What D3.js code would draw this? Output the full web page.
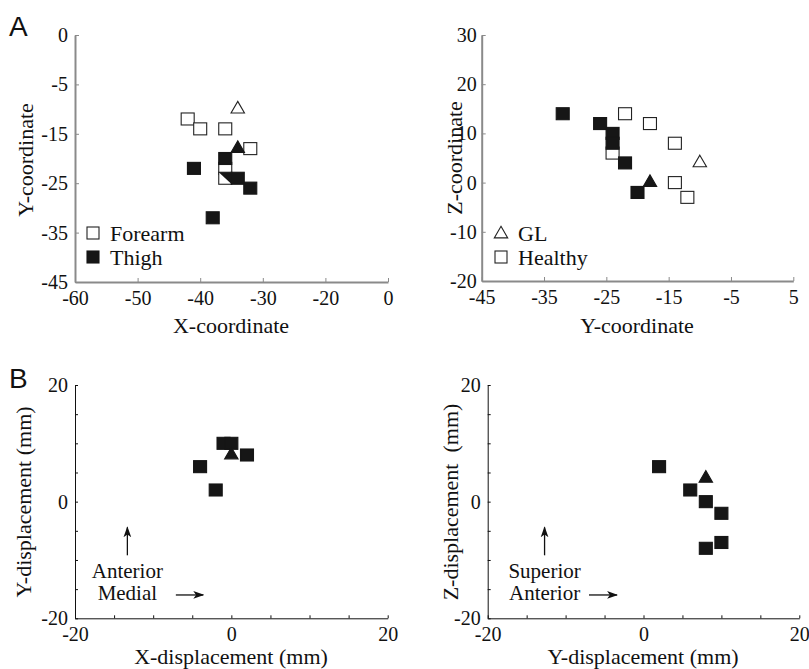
<!DOCTYPE html>
<html>
<head>
<meta charset="utf-8">
<script src="https://cdn.jsdelivr.net/npm/d3@7"></script>
<style>
  body { margin: 0; background: #fff; }
  text { font-family: "Liberation Serif", "Times New Roman", serif; fill: #111; }
  .panelLetter { font-family: "Liberation Sans", Arial, sans-serif; }
</style>
</head>
<body>
<script>

//DATA

// panel A, left: X vs Y coordinate
var healthyForearmXY = [[-42, -12], [-40, -14], [-36, -14], [-32, -18], [-36, -22], [-36, -24]];
var healthyThighXY = [[-41, -22], [-36, -20], [-34, -24], [-32, -26], [-38, -32]];
var hiddenThighXY = [[-36, -24]]; // mostly covered, only a corner shows
var glForearmXY = [[-34, -10]];
var glThighXY = [[-34, -18]];

// panel A, right: Y vs Z coordinate
var healthyForearmYZ = [[-22, 14], [-18, 12], [-14, 8], [-24, 6], [-14, 0], [-12, -3]];
var healthyThighYZ = [[-32, 14], [-26, 12], [-24, 10], [-24, 8], [-22, 4], [-20, -2]];
var glForearmYZ = [[-10, 4]];
var glThighYZ = [[-18, 0]];

// panel B: displacements (mm)
var healthyDispXY = [[-4, 6], [-2, 2], [-1, 10], [0, 10], [2, 8]];
var glDispXY = [[0, 8]];
var healthyDispYZ = [[2, 6], [6, 2], [8, 0], [10, -2], [10, -7], [8, -8]];
var glDispYZ = [[8, 4]];

// ticks (the original figure labels its last tick oddly, kept as printed)
var xTicksA1 = [-60, -50, -40, -30, -20, -10];
var xLabelsA1 = ["-60", "-50", "-40", "-30", "-20", "0"];
var yTicksA1 = [-45, -35, -25, -15, -5, 5];
var yLabelsA1 = ["-45", "-35", "-25", "-15", "-5", "0"];
var xTicksA2 = [-45, -35, -25, -15, -5, 5];
var xLabelsA2 = ["-45", "-35", "-25", "-15", "-5", "5"];
var yTicksA2 = [-20, -10, 0, 10, 20, 30];
var yLabelsA2 = ["-20", "-10", "0", "10", "20", "30"];
var ticksB = [-20, -15, -10, -5, 0, 5, 10, 15, 20];
var majorTicksB = [-20, 0, 20];

//SVG

var svg = d3.select("body")
	.append("svg")
	.attr("width", 809)
	.attr("height", 669);

var markSize = 13;
var serif = "'Liberation Serif', 'Times New Roman', serif";

function drawPanel(p) {

	var g = svg.append("g");

	var xScale = d3.scaleLinear().domain(p.xDomain).range(p.xRange);
	var yScale = d3.scaleLinear().domain(p.yDomain).range(p.yRange);

	//x axis
	var xAxis = d3.axisBottom(xScale)
		.tickValues(p.xTicks)
		.tickFormat(p.xFormat)
		.tickSizeInner(-p.tickLen)
		.tickSizeOuter(0)
		.tickPadding(9);

	var xg = g.append("g")
		.attr("transform", "translate(0," + p.yRange[0] + ")")
		.call(xAxis);

	//y axis
	var yAxis = d3.axisLeft(yScale)
		.tickValues(p.yTicks)
		.tickFormat(p.yFormat)
		.tickSizeInner(-p.tickLen)
		.tickSizeOuter(0)
		.tickPadding(p.yPad);

	var yg = g.append("g")
		.attr("transform", "translate(" + p.xRange[0] + ",0)")
		.call(yAxis);

	[xg, yg].forEach(function(ax) {
		ax.attr("font-family", serif).attr("font-size", 20);
		ax.select(".domain")
			.attr("stroke", p.axisColor)
			.attr("stroke-width", p.axisWidth);
		ax.selectAll(".tick line")
			.attr("stroke", p.axisColor)
			.attr("stroke-width", 1);
		ax.selectAll(".tick text")
			.attr("fill", "#111")
			.style("font-family", serif)
			.style("font-size", "20px");
	});

	//axis titles
	g.append("text")
		.attr("x", p.xTitlePos[0])
		.attr("y", p.xTitlePos[1])
		.attr("text-anchor", "middle")
		.style("font-size", "22px")
		.text(p.xTitle);

	g.append("text")
		.attr("transform", "translate(" + p.yTitlePos[0] + "," + p.yTitlePos[1] + ") rotate(-90)")
		.attr("text-anchor", "middle")
		.style("font-size", "22px")
		.style("white-space", "pre")
		.text(p.yTitle);

	//markers
	p.series.forEach(function(s) {
		if (s.shape == "square") {
			g.selectAll(null)
				.data(s.data)
				.enter()
				.append("rect")
				.attr("x", d => xScale(d[0]) - markSize / 2)
				.attr("y", d => yScale(d[1]) - (markSize - 1) / 2)
				.attr("width", markSize)
				.attr("height", markSize - 1)
				.attr("fill", s.filled ? "#161616" : "#fff")
				.attr("stroke", s.filled ? "#161616" : "#222")
				.attr("stroke-width", 1.1);
		} else if (s.shape == "triangle") {
			g.selectAll(null)
				.data(s.data)
				.enter()
				.append("path")
				.attr("d", d3.symbol().type(d3.symbolTriangle).size(78))
				.attr("transform", d => "translate(" + xScale(d[0]) + "," + yScale(d[1]) + ")")
				.attr("fill", s.filled ? "#161616" : "#fff")
				.attr("stroke", s.filled ? "#161616" : "#222")
				.attr("stroke-width", 1.1);
		} else if (s.shape == "corner") {
			// upper right half of a square
			g.selectAll(null)
				.data(s.data)
				.enter()
				.append("path")
				.attr("d", d => {
					var cx = xScale(d[0]), cy = yScale(d[1]), h = markSize / 2;
					return "M" + (cx - h) + "," + (cy - h + 0.5) + "H" + (cx + h) + "V" + (cy + h - 0.5) + "Z";
				})
				.attr("fill", "#161616");
		}
	});

	if (p.extra) p.extra(g, xScale, yScale);

	return g;
}

function legendEntry(g, shape, filled, x, y, label) {
	if (shape == "square") {
		g.append("rect")
			.attr("x", x - 6).attr("y", y - 6)
			.attr("width", 12).attr("height", 12)
			.attr("fill", filled ? "#161616" : "#fff")
			.attr("stroke", filled ? "#161616" : "#222")
			.attr("stroke-width", 1.1);
	} else {
		g.append("path")
			.attr("d", d3.symbol().type(d3.symbolTriangle).size(78))
			.attr("transform", "translate(" + x + "," + (y + 1) + ")")
			.attr("fill", filled ? "#161616" : "#fff")
			.attr("stroke", "#222")
			.attr("stroke-width", 1.1);
	}
	g.append("text")
		.attr("x", x + 17)
		.attr("y", y + 8)
		.style("font-size", "22px")
		.text(label);
}

// little arrows for the direction notes
svg.append("defs")
	.append("marker")
	.attr("id", "head")
	.attr("viewBox", "0 0 10 10")
	.attr("refX", 9).attr("refY", 5)
	.attr("markerWidth", 11).attr("markerHeight", 11)
	.attr("markerUnits", "userSpaceOnUse")
	.attr("orient", "auto")
	.append("path")
	.attr("d", "M0,1.5 L10,5 L0,8.5 L2.5,5 Z")
	.attr("fill", "#111");

function arrow(g, x1, y1, x2, y2) {
	g.append("line")
		.attr("x1", x1).attr("y1", y1)
		.attr("x2", x2).attr("y2", y2)
		.attr("stroke", "#111")
		.attr("stroke-width", 1.3)
		.attr("marker-end", "url(#head)");
}

function directionNote(topLabel, bottomLabel, upX, rightStart, rightEnd) {
	return function(g, xScale, yScale) {
		arrow(g, xScale(upX), yScale(-9.2), xScale(upX), yScale(-4.4));
		g.append("text")
			.attr("x", xScale(upX))
			.attr("y", yScale(-13.1))
			.attr("text-anchor", "middle")
			.style("font-size", "21px")
			.text(topLabel);
		g.append("text")
			.attr("x", xScale(upX))
			.attr("y", yScale(-16.9))
			.attr("text-anchor", "middle")
			.style("font-size", "21px")
			.text(bottomLabel);
		arrow(g, xScale(rightStart), yScale(-16), xScale(rightEnd), yScale(-16));
	};
}

//PANEL A

var gA1 = drawPanel({
	xDomain: [-60, -10], xRange: [75, 388],
	yDomain: [-45, 5], yRange: [282, 35],
	xTicks: xTicksA1, xFormat: (d, i) => xLabelsA1[i],
	yTicks: yTicksA1, yFormat: (d, i) => yLabelsA1[i],
	tickLen: 4, yPad: 7,
	axisColor: "#8a8a8a", axisWidth: 2,
	xTitle: "X-coordinate", xTitlePos: [231, 333],
	yTitle: "Y-coordinate", yTitlePos: [33, 160],
	series: [
		{shape: "square", filled: false, data: healthyForearmXY},
		{shape: "square", filled: true, data: healthyThighXY},
		{shape: "corner", data: hiddenThighXY},
		{shape: "triangle", filled: false, data: glForearmXY},
		{shape: "triangle", filled: true, data: glThighXY}
	]
});
legendEntry(gA1, "square", false, 93, 233, "Forearm");
legendEntry(gA1, "square", true, 93, 257, "Thigh");

var gA2 = drawPanel({
	xDomain: [-45, 5], xRange: [481.7, 793.3],
	yDomain: [-20, 30], yRange: [281, 35],
	xTicks: xTicksA2, xFormat: (d, i) => xLabelsA2[i],
	yTicks: yTicksA2, yFormat: (d, i) => yLabelsA2[i],
	tickLen: 4, yPad: 5,
	axisColor: "#8a8a8a", axisWidth: 2,
	xTitle: "Y-coordinate", xTitlePos: [637, 333],
	yTitle: "Z-coordinate", yTitlePos: [462, 158],
	series: [
		{shape: "square", filled: false, data: healthyForearmYZ},
		{shape: "square", filled: true, data: healthyThighYZ},
		{shape: "triangle", filled: false, data: glForearmYZ},
		{shape: "triangle", filled: true, data: glThighYZ}
	]
});
legendEntry(gA2, "triangle", false, 501, 233, "GL");
legendEntry(gA2, "square", false, 501, 257, "Healthy");

//PANEL B

var bFormat = d => majorTicksB.indexOf(d) >= 0 ? d : "";

drawPanel({
	xDomain: [-20, 20], xRange: [75, 387.7],
	yDomain: [-20, 20], yRange: [618.3, 385],
	xTicks: ticksB, xFormat: bFormat,
	yTicks: ticksB, yFormat: bFormat,
	tickLen: 3, yPad: 7,
	axisColor: "#111", axisWidth: 1,
	xTitle: "X-displacement (mm)", xTitlePos: [231, 664],
	yTitle: "Y-displacement (mm)", yTitlePos: [31, 502],
	series: [
		{shape: "square", filled: true, data: healthyDispXY},
		{shape: "triangle", filled: true, data: glDispXY}
	],
	extra: directionNote("Anterior", "Medial", -13.3, -7.1, -3.6)
});

drawPanel({
	xDomain: [-20, 20], xRange: [487.7, 799.3],
	yDomain: [-20, 20], yRange: [618.3, 385],
	xTicks: ticksB, xFormat: bFormat,
	yTicks: ticksB, yFormat: bFormat,
	tickLen: 3, yPad: 7,
	axisColor: "#111", axisWidth: 1,
	xTitle: "Y-displacement (mm)", xTitlePos: [643, 664],
	yTitle: "Z-displacement  (mm)", yTitlePos: [458, 502],
	series: [
		{shape: "square", filled: true, data: healthyDispYZ},
		{shape: "triangle", filled: true, data: glDispYZ}
	],
	extra: directionNote("Superior", "Anterior", -12.7, -7.0, -3.4)
});

//panel letters
svg.append("text").attr("class", "panelLetter")
	.attr("x", 9).attr("y", 36)
	.style("font-size", "28px")
	.text("A");
svg.append("text").attr("class", "panelLetter")
	.attr("x", 9).attr("y", 388)
	.style("font-size", "28px")
	.text("B");

</script>
</body>
</html>
